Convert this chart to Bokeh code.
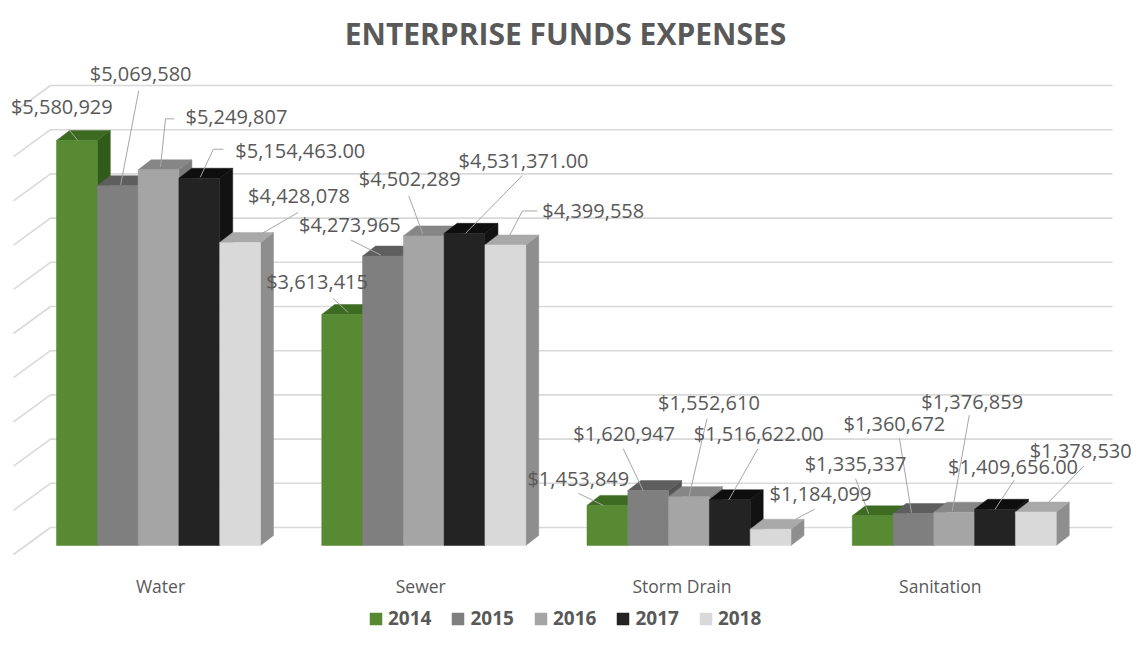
from bokeh.plotting import figure
from bokeh.models import Range1d, Legend, LegendItem, ColumnDataSource
from bokeh.core.properties import value
from bokeh.embed import file_html
from bokeh.resources import INLINE

# ---------------- data ----------------
title_text = "ENTERPRISE FUNDS EXPENSES"
categories = ["Water", "Sewer", "Storm Drain", "Sanitation"]
years = ["2014", "2015", "2016", "2017", "2018"]
exp_2014 = [5580929, 3613415, 1453849, 1335337]
exp_2015 = [5069580, 4273965, 1620947, 1360672]
exp_2016 = [5249807, 4502289, 1552610, 1376859]
exp_2017 = [5154463.00, 4531371.00, 1516622.00, 1409656.00]
exp_2018 = [4428078, 4399558, 1184099, 1378530]
series = [exp_2014, exp_2015, exp_2016, exp_2017, exp_2018]
label_decimals = [0, 0, 0, 2, 0]
axis_min, axis_max, axis_step = 1000000, 6000000, 500000

# ---------------- layout / style ----------------
W, H = 1132, 634
SX = 265.25            # px per category
SY = 88.4 / 1e6        # px per dollar
X0_PX = 158.0          # px of first category centre
BASE_PX = 545.0        # px (from top) of axis_min at the bar front
BAR_PX = 40.8
DEPTH_DX, DEPTH_DY = 13.0, 10.0
WALL_UP = 18.0         # back wall above bar front plane (px)
FLOOR_DOWN = 9.0       # front edge below bar base (px)
WALL_LEFT_PX, WALL_FRONT_PX, WALL_RIGHT_PX = 50.0, 13.0, 1112.0

front_colors = ["#578a33", "#7f7f7f", "#a5a5a5", "#232323", "#d9d9d9"]
top_colors = ["#3d6b22", "#5e5e5e", "#868686", "#0e0e0e", "#a9a9a9"]
side_colors = ["#325a1b", "#545454", "#7a7a7a", "#121212", "#8e8e8e"]
text_color = "#595959"
grid_color = "#d9d9d9"
leader_color = "#a6a6a6"
FONT = "Open Sans"

# label offsets (px, screen, y down) relative to each bar's front-top centre
label_offsets = [
    [(-66, -34), (-76, -33), (-80, -27), (-68, -52)],
    [(-28, -112), (-84, -32), (-75, -57), (-70, -90)],
    [(27, -53), (-65, -57), (-31, -94), (-33, -111)],
    [(36, -28), (-6, -73), (-36, -66), (-47, -43)],
    [(8, -47), (37, -34), (-1, -36), (-6, -62)],
]
leader_offsets = [
    [[(-8, -11), (1, 0)], [(-9, -16), (6, -2)], [(-29, -12), (-4, 0)], [(-17, -37), (-4, -2)]],
    [[(21, -95), (3, -1)], [(-32, -16), (-2, -1)], [(-25, -42), (-5, 0)], [(-14, -75), (-2, -1)]],
    [[(16, -51), (7, -51), (2, -3)], [(-15, -40), (-1, -2)], [(18, -78), (0, 0)], [(15, -97), (-2, -1)]],
    [[(24, -29), (14, -29), (1, -1)], [(58, -58), (1, 0)], [(28, -51), (-1, 0)], [(19, -29), (0, 0)]],
    [[(58, -30), (22, -9)], [(32, -34), (17, -34), (3, -7)], [(44, -20), (25, -10)], [(48, -46), (10, -7)]],
]
category_label_dx = [2, -3, -7, -14]

# ---------------- scales ----------------
x_start = -X0_PX / SX
x_end = x_start + W / SX
y_end = axis_min + BASE_PX / SY
y_start = y_end - H / SY

def px_x(px):
    return px / SX

def px_y(px):
    return px / SY

p = figure(width=W, height=H, x_range=Range1d(x_start, x_end), y_range=Range1d(y_start, y_end),
           output_backend="svg", toolbar_location=None, x_axis_location=None, y_axis_location=None,
           min_border=0, outline_line_color=None, background_fill_color="white",
           border_fill_color="white")
p.grid.visible = False

# ---------------- walls / gridlines ----------------
ticks = list(range(axis_min, axis_max + 1, axis_step))
gx, gy = [], []
for t in ticks:
    yb = t + px_y(WALL_UP)
    yf = t - px_y(FLOOR_DOWN)
    gx.append([x_start + px_x(WALL_FRONT_PX), x_start + px_x(WALL_LEFT_PX), x_start + px_x(WALL_RIGHT_PX)])
    gy.append([yf, yb, yb])
p.multi_line(gx, gy, line_color=grid_color, line_width=1.6)

# ---------------- 3D bars ----------------
bw = px_x(BAR_PX)
ddx = px_x(DEPTH_DX)
ddy = px_y(DEPTH_DY)
legend_items = []
for j, vals in enumerate(series):
    lefts = [i + (j - 2.5) * bw for i in range(len(categories))]
    rights = [l + bw for l in lefts]
    side_xs = [[r, r, r + ddx, r + ddx] for r in rights]
    side_ys = [[axis_min, v, v + ddy, axis_min + ddy] for v in vals]
    p.patches(side_xs, side_ys, fill_color=side_colors[j], line_color=side_colors[j], line_width=0.5)
    top_xs = [[l, r, r + ddx, l + ddx] for l, r in zip(lefts, rights)]
    top_ys = [[v, v, v + ddy, v + ddy] for v in vals]
    p.patches(top_xs, top_ys, fill_color=top_colors[j], line_color=top_colors[j], line_width=0.5)
    src = ColumnDataSource(dict(left=lefts, right=rights, top=vals, bottom=[axis_min] * len(vals)))
    r = p.quad(left="left", right="right", top="top", bottom="bottom", source=src,
               fill_color=front_colors[j], line_color=front_colors[j], line_width=0.5)
    legend_items.append(LegendItem(label=years[j], renderers=[r]))

# ---------------- data labels & leaders ----------------
lx, ly, lt = [], [], []
ldx, ldy = [], []
for j, vals in enumerate(series):
    for i, v in enumerate(vals):
        ax = i + (j - 2) * bw
        ay = v
        ox, oy = label_offsets[j][i]
        lx.append(ax + px_x(ox))
        ly.append(ay - px_y(oy))
        lt.append("$" + format(v, ",.%df" % label_decimals[j]))
        pts = leader_offsets[j][i]
        ldx.append([ax + px_x(a) for a, b in pts])
        ldy.append([ay - px_y(b) for a, b in pts])
p.multi_line(ldx, ldy, line_color=leader_color, line_width=1)
p.text(lx, ly, text=lt, text_font=value(FONT), text_font_size="20px", text_color=text_color,
       text_align="left", text_baseline="middle")

# ---------------- category labels ----------------
cx = [i + px_x(category_label_dx[i]) for i in range(len(categories))]
cy = [axis_min - px_y(40)] * len(categories)
p.text(cx, cy, text=categories, text_font=value(FONT), text_font_size="17.5px", text_color=text_color,
       text_align="center", text_baseline="middle")

# ---------------- title ----------------
p.text([x_start + px_x(565)], [y_end - px_y(33)], text=[title_text], text_font=value(FONT),
       text_font_size="30px", text_font_style="bold", text_color=text_color,
       text_align="center", text_baseline="middle")

# ---------------- legend ----------------
legend = Legend(items=legend_items, location=(368, 3), orientation="horizontal",
                glyph_width=15, glyph_height=15, label_height=13, label_standoff=5, spacing=19,
                padding=0, margin=0, border_line_color=None, background_fill_alpha=0,
                label_text_font=FONT, label_text_font_style="bold", label_text_font_size="19px",
                label_text_color=text_color)
p.add_layout(legend)

open("out.html", "w").write(file_html(p, INLINE))
